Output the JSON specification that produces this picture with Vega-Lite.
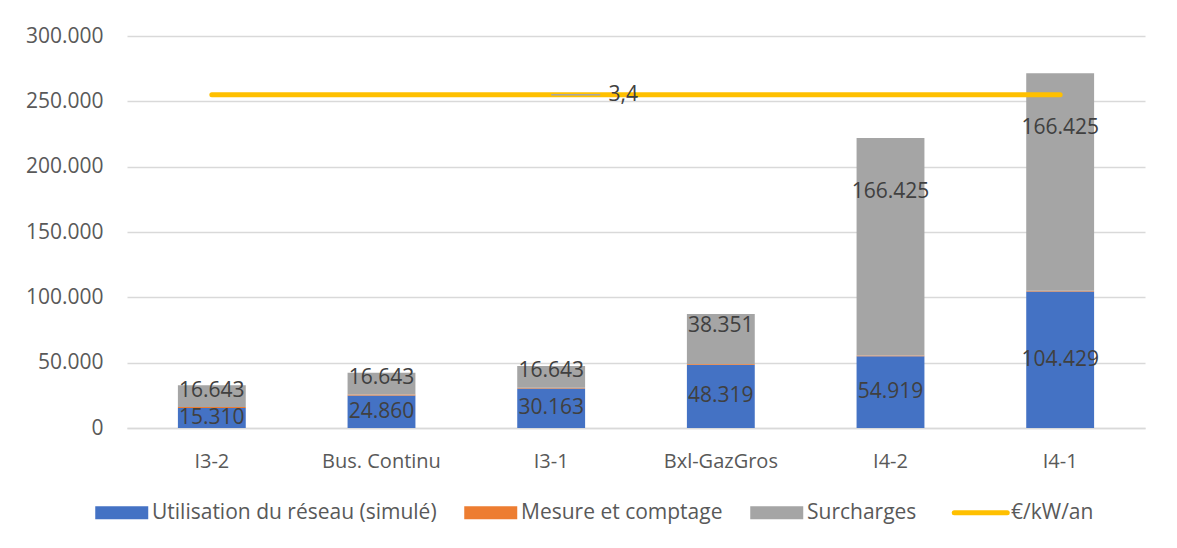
{
  "$schema": "https://vega.github.io/schema/vega-lite/v6.json",
  "autosize": {"type": "none"},
  "width": 1018,
  "height": 392,
  "padding": {"left": 127, "top": 36, "right": 32, "bottom": 120},
  "background": "white",
  "config": {
    "view": {"stroke": null},
    "font": "Open Sans",
    "locale": {"number": {"decimal": ",", "thousands": ".", "grouping": [3], "currency": ["", " €"]}}
  },
  "datasets": {
    "bars": [
      {"cat": "I3-2", "serie": "Utilisation du réseau (simulé)", "k": 1, "v": 15310},
      {"cat": "I3-2", "serie": "Mesure et comptage", "k": 2, "v": 800},
      {"cat": "I3-2", "serie": "Surcharges", "k": 3, "v": 16643},
      {"cat": "Bus. Continu", "serie": "Utilisation du réseau (simulé)", "k": 1, "v": 24860},
      {"cat": "Bus. Continu", "serie": "Mesure et comptage", "k": 2, "v": 700},
      {"cat": "Bus. Continu", "serie": "Surcharges", "k": 3, "v": 16643},
      {"cat": "I3-1", "serie": "Utilisation du réseau (simulé)", "k": 1, "v": 30163},
      {"cat": "I3-1", "serie": "Mesure et comptage", "k": 2, "v": 700},
      {"cat": "I3-1", "serie": "Surcharges", "k": 3, "v": 16643},
      {"cat": "Bxl-GazGros", "serie": "Utilisation du réseau (simulé)", "k": 1, "v": 48319},
      {"cat": "Bxl-GazGros", "serie": "Mesure et comptage", "k": 2, "v": 650},
      {"cat": "Bxl-GazGros", "serie": "Surcharges", "k": 3, "v": 38351},
      {"cat": "I4-2", "serie": "Utilisation du réseau (simulé)", "k": 1, "v": 54919},
      {"cat": "I4-2", "serie": "Mesure et comptage", "k": 2, "v": 650},
      {"cat": "I4-2", "serie": "Surcharges", "k": 3, "v": 166425},
      {"cat": "I4-1", "serie": "Utilisation du réseau (simulé)", "k": 1, "v": 104429},
      {"cat": "I4-1", "serie": "Mesure et comptage", "k": 2, "v": 600},
      {"cat": "I4-1", "serie": "Surcharges", "k": 3, "v": 166425}
    ],
    "line": [
      {"cat": "I3-2", "serie": "€/kW/an", "kw": 3.4},
      {"cat": "Bus. Continu", "serie": "€/kW/an", "kw": 3.4},
      {"cat": "I3-1", "serie": "€/kW/an", "kw": 3.4},
      {"cat": "Bxl-GazGros", "serie": "€/kW/an", "kw": 3.4},
      {"cat": "I4-2", "serie": "€/kW/an", "kw": 3.4},
      {"cat": "I4-1", "serie": "€/kW/an", "kw": 3.4}
    ]
  },
  "encoding": {
    "x": {
      "field": "cat", "type": "nominal", "sort": null,
      "scale": {"paddingInner": 0.6, "paddingOuter": 0.3},
      "axis": {
        "title": null, "labelAngle": 0, "ticks": false, "domain": true,
        "domainColor": "#D9D9D9", "domainWidth": 1.5,
        "labelFontSize": 20, "labelColor": "#595959", "labelPadding": 23, "labelFont": "Open Sans"
      }
    }
  },
  "layer": [
    {
      "data": {"name": "bars"},
      "encoding": {
        "y": {
          "field": "v", "type": "quantitative", "stack": "zero",
          "scale": {"domain": [0, 300000], "nice": false},
          "axis": {
            "title": null, "values": [0, 50000, 100000, 150000, 200000, 250000, 300000],
            "format": ",d", "ticks": false, "domain": false,
            "gridColor": "#D9D9D9", "gridWidth": 1.5,
            "labelFontSize": 21, "labelColor": "#595959", "labelPadding": 24, "labelFont": "Open Sans"
          }
        },
        "order": {"field": "k", "type": "quantitative", "sort": "ascending"}
      },
      "layer": [
        {
          "mark": {"type": "bar"},
          "encoding": {
            "color": {
              "field": "serie", "type": "nominal",
              "scale": {
                "domain": ["Utilisation du réseau (simulé)", "Mesure et comptage", "Surcharges", "€/kW/an"],
                "range": ["#4472C4", "#ED7D31", "#A5A5A5", "#FFC000"]
              },
              "legend": {
                "orient": "none", "legendX": -29, "legendY": 466, "direction": "horizontal",
                "title": null, "labelFontSize": 21, "labelColor": "#595959", "labelFont": "Open Sans",
                "labelLimit": 500,
                "columnPadding": 27, "labelOffset": 33, "symbolSize": 702, "symbolStrokeWidth": 0,
                "encode": {
                  "symbols": {
                    "update": {
                      "shape": {"signal": "datum.value === '€/kW/an' ? 'M-1,0H3' : 'M-1,-0.5H3V0.5H-1Z'"},
                      "fill": {"signal": "datum.value === '€/kW/an' ? 'transparent' : scale('color', datum.value)"},
                      "stroke": {"signal": "datum.value === '€/kW/an' ? '#FFC000' : 'transparent'"},
                      "strokeWidth": {"signal": "datum.value === '€/kW/an' ? 5 : 0"},
                      "strokeCap": {"value": "round"},
                      "size": {"value": 702},
                      "opacity": {"value": 1}
                    }
                  }
                }
              }
            }
          }
        },
        {
          "mark": {"type": "text", "fontSize": 21, "color": "#404040", "font": "Open Sans", "baseline": "middle"},
          "encoding": {
            "y": {"field": "v", "type": "quantitative", "stack": "zero", "bandPosition": 0.5},
            "text": {"condition": {"test": "datum.k != 1", "value": ""}, "field": "v", "type": "quantitative", "format": ",d"}
          }
        },
        {
          "mark": {"type": "text", "fontSize": 21, "color": "#404040", "font": "Open Sans", "baseline": "middle"},
          "encoding": {
            "y": {"field": "v", "type": "quantitative", "stack": "zero", "bandPosition": 0.75},
            "text": {"condition": {"test": "datum.k != 3", "value": ""}, "field": "v", "type": "quantitative", "format": ",d"}
          }
        }
      ]
    },
    {
      "data": {"name": "line"},
      "encoding": {
        "y": {"field": "kw", "type": "quantitative", "scale": {"domain": [0, 4], "nice": false}, "axis": null}
      },
      "layer": [
        {
          "mark": {"type": "line", "strokeWidth": 5, "strokeCap": "round"},
          "encoding": {"color": {"field": "serie", "type": "nominal"}}
        },
        {
          "transform": [{"filter": "datum.cat == 'I3-1'"}],
          "mark": {"type": "rule", "color": "#A6A6A6", "strokeWidth": 1.5, "x2Offset": 49},
          "encoding": {"x2": {"field": "cat"}}
        },
        {
          "transform": [{"filter": "datum.cat == 'I3-1'"}],
          "mark": {"type": "text", "fontSize": 21, "color": "#404040", "font": "Open Sans", "dx": 72, "baseline": "middle"},
          "encoding": {"text": {"field": "kw", "type": "quantitative", "format": ".1f"}}
        }
      ]
    }
  ],
  "resolve": {"scale": {"y": "independent"}}
}
